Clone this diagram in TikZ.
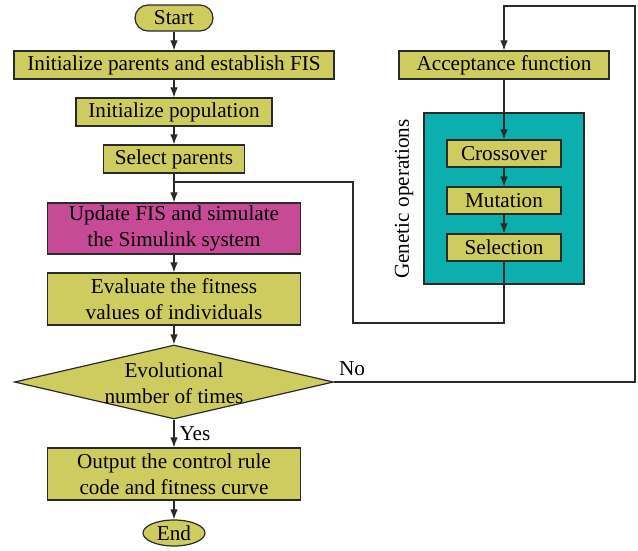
\documentclass[tikz,border=0pt]{standalone}
\usepackage{fontspec}
\setmainfont{Liberation Serif}
\usetikzlibrary{arrows.meta,positioning,shapes.geometric}
\definecolor{BoxYellow}{HTML}{CFCC5F}
\definecolor{BoxMagenta}{HTML}{C64A95}
\definecolor{BoxTeal}{HTML}{0DAFAE}
\definecolor{Frame}{HTML}{2A2A2A}
\tikzset{
  stepbox/.style={
    rectangle, draw=Frame, fill=BoxYellow, line width=1.2pt,
    align=center, minimum height=28pt, inner sep=1pt,
    font=\fontsize{21.2}{25.5}\selectfont
  },
  termbox/.style={stepbox, rounded corners=13pt, minimum height=26pt},
  endbox/.style={stepbox, ellipse, minimum height=26pt},
  decision/.style={diamond, draw=Frame, fill=BoxYellow, line width=1.2pt,
    inner sep=0pt, minimum width=319pt, minimum height=74pt},
  plaintext/.style={font=\fontsize{21.2}{25.5}\selectfont, align=center, inner sep=0pt},
  flowline/.style={line width=1.1pt, draw=Frame},
  flowarrow/.style={flowline, -{Latex[length=10pt,width=7.5pt]}},
}
\begin{document}
\begin{tikzpicture}[x=1pt,y=-1pt]
    \useasboundingbox (0,0) rectangle (638,550);
    % main column
    \node[termbox, minimum width=78pt] (start) at (174,18) {Start};
    \node[stepbox, minimum width=320pt] (init) at (174,65) {Initialize parents and establish FIS};
    \node[stepbox, minimum width=196pt] (pop) at (174,112) {Initialize population};
    \node[stepbox, minimum width=141pt] (selp) at (174,159) {Select parents};
    \node[stepbox, fill=BoxMagenta, minimum width=253pt, minimum height=51pt] (update) at (174,228.5) {Update FIS and simulate\\the Simulink system};
    \node[stepbox, minimum width=253pt, minimum height=52pt] (eval) at (174,299) {Evaluate the fitness\\values of individuals};
    \node[decision] (dec) at (174,382) {};
    \node[plaintext] (dectext) at (174,383) {Evolutional\\number of times};
    \node[stepbox, minimum width=253pt, minimum height=52pt] (out) at (174,474) {Output the control rule\\code and fitness curve};
    \node[endbox, minimum width=62pt] (end) at (174,533) {End};
    % genetic part
    \node[stepbox, minimum width=210pt] (accept) at (504,65) {Acceptance function};
    \node[rectangle, draw=Frame, fill=BoxTeal, line width=1.2pt, minimum width=160pt, minimum height=171pt] (gbox) at (504,198.5) {};
    \node[plaintext, rotate=90] (gtext) at (404,199) {Genetic operations};
    \node[stepbox, minimum width=114pt, minimum height=27pt] (cross) at (504,153.5) {Crossover};
    \node[stepbox, minimum width=114pt, minimum height=27pt] (mut) at (504,200.5) {Mutation};
    \node[stepbox, minimum width=114pt, minimum height=27pt] (selop) at (504,247.5) {Selection};
    \coordinate (join) at (174,182);
    \coordinate (ret) at (353,323);
    \coordinate (loop) at (635,6);
    \draw[flowarrow] (start) -- (init);
    \draw[flowarrow] (init) -- (pop);
    \draw[flowarrow] (pop) -- (selp);
    \draw[flowarrow] (selp) -- (update);
    \draw[flowarrow] (update) -- (eval);
    \draw[flowarrow] (eval) -- (dec);
    \draw[flowarrow] (dec) -- node[plaintext, right=5pt] (yes) {Yes} (out);
    \draw[flowarrow] (out) -- (end);
    \draw[flowarrow] (dec.east) -| (loop) -| (accept.north);
    \node[plaintext] (no) at (352,369) {No};
    \draw[flowarrow] (accept) -- (cross);
    \draw[flowarrow] (cross) -- (mut);
    \draw[flowarrow] (mut) -- (selop);
    \draw[flowline] (selop.south) |- (ret) |- (join);
\end{tikzpicture}
\end{document}
